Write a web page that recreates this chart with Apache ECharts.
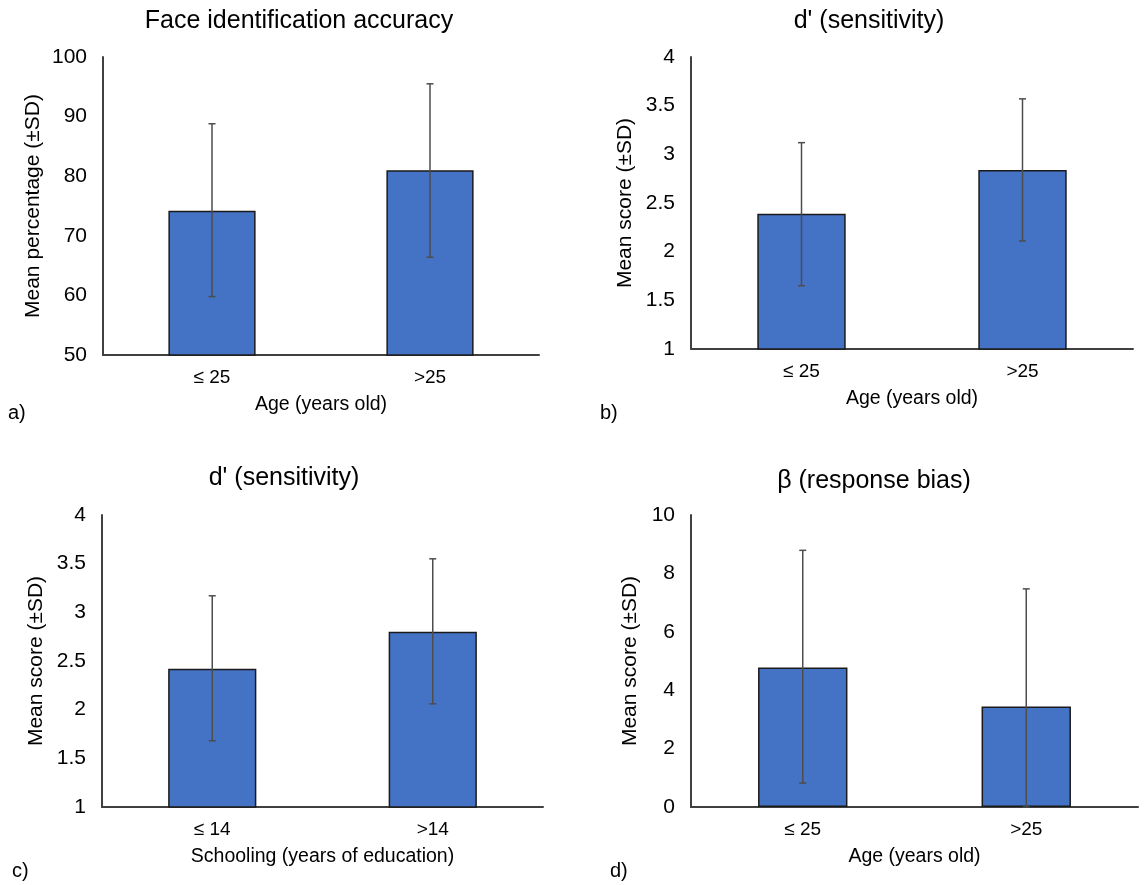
<!DOCTYPE html>
<html>
<head>
<meta charset="utf-8">
<script src="https://cdn.jsdelivr.net/npm/echarts@6/dist/echarts.min.js"></script>
<style>
html,body{margin:0;padding:0;background:#fff;}
#chart{width:1147px;height:885px;}
</style>
</head>
<body>
<div id="chart"></div>
<script>
// ---- data ----
const catsAge = ['≤ 25', '>25'];
const catsSchool = ['≤ 14', '>14'];

const accMean = [74.2, 81.0];
const accLow  = [59.8, 66.4];
const accHigh = [88.8, 95.5];

const dAgeMean = [2.39, 2.84];
const dAgeLow  = [1.65, 2.11];
const dAgeHigh = [3.12, 3.57];

const dSchMean = [2.42, 2.80];
const dSchLow  = [1.68, 2.06];
const dSchHigh = [3.17, 3.55];

const betaMean = [4.78, 3.44];
const betaLow  = [0.82, 0];
const betaHigh = [8.79, 7.47];

const titles = ['Face identification accuracy', "d' (sensitivity)", "d' (sensitivity)", 'β (response bias)'];
const xNames = ['Age (years old)', 'Age (years old)', 'Schooling (years of education)', 'Age (years old)'];
const yNames = ['Mean percentage (±SD)', 'Mean score (±SD)', 'Mean score (±SD)', 'Mean score (±SD)'];
const yMin = [50, 1, 1, 0];
const yMax = [100, 4, 4, 10];
const yInterval = [10, 0.5, 0.5, 2];
const panelLabels = ['a)', 'b)', 'c)', 'd)'];

// ---- layout ----
const FONT = 'Liberation Sans, Arial, sans-serif';
const grids = [
  {left: 103, top: 57, width: 436, height: 298},
  {left: 691, top: 57, width: 442, height: 292},
  {left: 102, top: 515, width: 441, height: 292},
  {left: 691, top: 515, width: 447, height: 292}
];
const yNameGaps = [59, 55, 55, 50];
const titlePos = [[299, 9], [869, 9], [284, 466], [874, 469]];
const labelPos = [[8, 403], [600, 403], [12, 861], [610, 861]];

const panels = [
  {cats: catsAge, mean: accMean, low: accLow, high: accHigh},
  {cats: catsAge, mean: dAgeMean, low: dAgeLow, high: dAgeHigh},
  {cats: catsSchool, mean: dSchMean, low: dSchLow, high: dSchHigh},
  {cats: catsAge, mean: betaMean, low: betaLow, high: betaHigh}
];

const option = {
  backgroundColor: '#ffffff',
  animation: false,
  title: titles.map((t, i) => ({
    text: t,
    left: titlePos[i][0],
    top: titlePos[i][1],
    textAlign: 'center',
    padding: 0,
    textStyle: {fontFamily: FONT, fontSize: 25, fontWeight: 'normal', color: '#000'}
  })),
  grid: grids,
  xAxis: panels.map((p, i) => ({
    type: 'category',
    gridIndex: i,
    data: p.cats,
    name: xNames[i],
    nameLocation: 'middle',
    nameGap: 40,
    nameTextStyle: {fontFamily: FONT, fontSize: 19.5, color: '#000'},
    axisLine: {show: true, lineStyle: {color: '#404040', width: 2}},
    axisTick: {show: false},
    axisLabel: {fontFamily: FONT, fontSize: 19, color: '#000', margin: 13}
  })),
  yAxis: panels.map((p, i) => ({
    type: 'value',
    gridIndex: i,
    min: yMin[i],
    max: yMax[i],
    interval: yInterval[i],
    name: yNames[i],
    nameLocation: 'middle',
    nameGap: yNameGaps[i],
    nameTextStyle: {fontFamily: FONT, fontSize: 21, color: '#000'},
    axisLine: {show: true, lineStyle: {color: '#404040', width: 2}},
    axisTick: {show: false},
    splitLine: {show: false},
    axisLabel: {fontFamily: FONT, fontSize: 21, color: '#000', margin: 16}
  })),
  series: [],
  graphic: panelLabels.map((t, i) => ({
    type: 'text',
    left: labelPos[i][0],
    top: labelPos[i][1],
    style: {text: t, fontFamily: FONT, fontSize: 20, fill: '#000'}
  }))
};

panels.forEach((p, i) => {
  option.series.push({
    type: 'bar',
    xAxisIndex: i,
    yAxisIndex: i,
    data: p.mean,
    barWidth: '40%',
    itemStyle: {color: '#4472C4', borderColor: '#1a1a1a', borderWidth: 1.5},
    z: 2
  });
  option.series.push({
    type: 'custom',
    xAxisIndex: i,
    yAxisIndex: i,
    data: p.cats.map((c, k) => [k, p.low[k], p.high[k]]),
    z: 5,
    renderItem: function (params, api) {
      const x = api.value(0);
      const lo = api.coord([x, api.value(1)]);
      const hi = api.coord([x, api.value(2)]);
      const cap = 3.5;
      const style = {stroke: '#4d4d4d', lineWidth: 1.5, fill: null};
      return {
        type: 'group',
        children: [
          {type: 'line', shape: {x1: lo[0], y1: lo[1], x2: hi[0], y2: hi[1]}, style: style},
          {type: 'line', shape: {x1: hi[0] - cap, y1: hi[1], x2: hi[0] + cap, y2: hi[1]}, style: style},
          {type: 'line', shape: {x1: lo[0] - cap, y1: lo[1], x2: lo[0] + cap, y2: lo[1]}, style: style}
        ]
      };
    }
  });
});

const chart = echarts.init(document.getElementById('chart'), null, {renderer: 'canvas'});
chart.setOption(option);
</script>
</body>
</html>
